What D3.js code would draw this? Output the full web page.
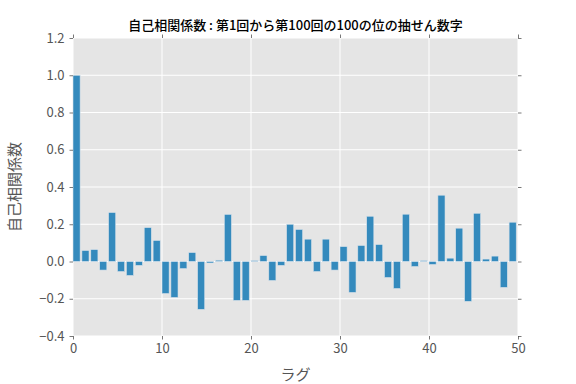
<!DOCTYPE html>
<html>
<head>
<meta charset="utf-8">
<script src="https://cdn.jsdelivr.net/npm/d3@7"></script>
<style>
  body { margin: 0; background: #fff; }
  text { font-family: "Noto Sans CJK JP", "DejaVu Sans", sans-serif; }
</style>
</head>
<body>
<div id="chart"></div>
<script>
// autocorrelation per lag
const lags = d3.range(0, 50);
const acf = [
  1.0, 0.059, 0.064, -0.046, 0.263, -0.054, -0.075, -0.021, 0.182, 0.113,
  -0.172, -0.193, -0.038, 0.048, -0.257, -0.008, 0.007, 0.253, -0.209, -0.209,
  0.005, 0.032, -0.102, -0.021, 0.200, 0.172, 0.120, -0.054, 0.120, -0.046,
  0.080, -0.166, 0.086, 0.243, 0.091, -0.086, -0.145, 0.254, -0.027, 0.005,
  -0.016, 0.356, 0.018, 0.179, -0.214, 0.259, 0.013, 0.029, -0.139, 0.211
];
const xTicks = [0, 10, 20, 30, 40, 50];
const yTicks = [-0.4, -0.2, 0.0, 0.2, 0.4, 0.6, 0.8, 1.0, 1.2];

const titleText = "自己相関係数 : 第1回から第100回の100の位の抽せん数字";
const xLabel = "ラグ";
const yLabel = "自己相関係数";

const W = 576, H = 384;
const margin = { top: 38, right: 58, bottom: 48, left: 73 };
const width = W - margin.left - margin.right;
const height = H - margin.top - margin.bottom;

const svg = d3.select("#chart").append("svg")
  .attr("width", W).attr("height", H);

const g = svg.append("g")
  .attr("transform", `translate(${margin.left},${margin.top})`);

const x = d3.scaleLinear().domain([0, 50]).range([0, width]);
const y = d3.scaleLinear().domain([-0.4, 1.2]).range([height, 0]);

// background
g.append("rect")
  .attr("width", width).attr("height", height)
  .attr("fill", "#e5e5e5");

// grid
g.append("g").selectAll("line.gx")
  .data(xTicks).join("line")
  .attr("x1", d => x(d)).attr("x2", d => x(d))
  .attr("y1", 0).attr("y2", height)
  .attr("stroke", "#fff").attr("stroke-width", 1);

g.append("g").selectAll("line.gy")
  .data(yTicks).join("line")
  .attr("y1", d => y(d)).attr("y2", d => y(d))
  .attr("x1", 0).attr("x2", width)
  .attr("stroke", "#fff").attr("stroke-width", 1);

// bars, left edge at lag, width 0.8
g.append("g").selectAll("rect")
  .data(lags).join("rect")
  .attr("x", d => x(d))
  .attr("width", x(0.8) - x(0))
  .attr("y", d => y(Math.max(0, acf[d])))
  .attr("height", d => Math.abs(y(acf[d]) - y(0)))
  .attr("fill", "#348abd")
  .attr("stroke", "#d8e2ea")
  .attr("stroke-width", 0.6);

// axes: outward gray ticks on all four sides
const tickColor = "#555";
function styleAxis(sel) {
  sel.select(".domain").remove();
  sel.selectAll(".tick line").attr("stroke", tickColor).attr("stroke-width", 0.8);
  sel.selectAll(".tick text")
    .attr("fill", tickColor)
    .style("font-size", "13px");
}

g.append("g")
  .attr("transform", `translate(0,${height})`)
  .call(d3.axisBottom(x).tickValues(xTicks).tickSize(3.5).tickPadding(4).tickFormat(d3.format("d")))
  .call(styleAxis);

g.append("g")
  .call(d3.axisTop(x).tickValues(xTicks).tickSize(3.5).tickFormat(""))
  .call(styleAxis);

g.append("g")
  .call(d3.axisLeft(y).tickValues(yTicks).tickSize(3.5).tickPadding(5)
    .tickFormat(d => d3.format(".1f")(d).replace("-", "\u2212")))
  .call(styleAxis);

g.append("g")
  .attr("transform", `translate(${width},0)`)
  .call(d3.axisRight(y).tickValues(yTicks).tickSize(3.5).tickFormat(""))
  .call(styleAxis);

// title and labels
svg.append("text")
  .attr("x", margin.left + width / 2).attr("y", 30)
  .attr("text-anchor", "middle")
  .style("font-size", "13px").style("font-weight", "500")
  .attr("fill", "#000")
  .text(titleText);

svg.append("text")
  .attr("x", margin.left + width / 2).attr("y", 380)
  .attr("text-anchor", "middle")
  .style("font-size", "15px")
  .attr("fill", tickColor)
  .text(xLabel);

svg.append("text")
  .attr("transform", `translate(20,${margin.top + height / 2}) rotate(-90)`)
  .attr("text-anchor", "middle")
  .style("font-size", "15px")
  .attr("fill", tickColor)
  .text(yLabel);
</script>
</body>
</html>
